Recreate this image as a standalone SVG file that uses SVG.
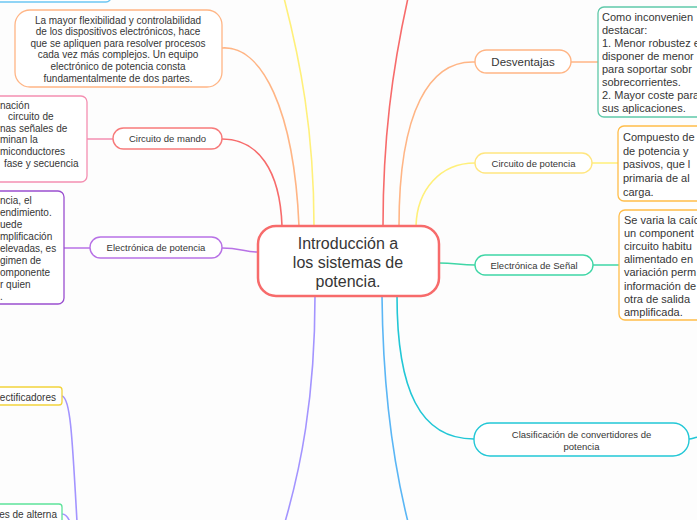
<svg xmlns="http://www.w3.org/2000/svg" width="697" height="520" viewBox="0 0 697 520">
<style>
text{font-family:"Liberation Sans",Arial,sans-serif;fill:#363636}
.c{fill:none;stroke-width:1.6;stroke-linecap:round}
.n{fill:#fff;stroke-width:1.4}
.b{fill:#fff;stroke-width:1.3}
.s{font-size:9.5px;text-anchor:middle}
.t{font-size:10px}
.m{font-size:10px;text-anchor:middle}
.l{font-size:11px}
</style>
<rect width="697" height="520" fill="#fdfdfd"/>
<g id="connectors">
<path class="c" stroke="#ffb585" d="M222,48 C262,45 294,110 299,226"/>
<path class="c" stroke="#f76b6b" d="M222,139 C258,139 280,170 282,226"/>
<path class="c" stroke="#fff07a" d="M284,-2 C300,60 314,130 314,226"/>
<path class="c" stroke="#f76b6b" d="M408,-2 C392,70 383,140 383,226"/>
<path class="c" stroke="#ffb585" d="M475,62 C430,60 399,110 399,226"/>
<path class="c" stroke="#fff07a" d="M475,163 C440,163 417,190 416,226"/>
<path class="c" stroke="#3fd6a6" d="M439,263 C455,263 460,265 475,265"/>
<path class="c" stroke="#22c7d6" d="M397,296 C397,390 420,439 474,439"/>
<path class="c" stroke="#5ab6f5" d="M382,296 C383,400 395,470 408,522"/>
<path class="c" stroke="#a394ff" d="M315,296 C315,400 300,470 285,522"/>
<path class="c" stroke="#b872e6" d="M222,248 C240,248 245,252 258,252"/>
<path class="c" stroke="#f48fb1" d="M87,139 L113,139"/>
<path class="c" stroke="#b872e6" d="M64,248 L90,248"/>
<path class="c" stroke="#ffb585" d="M571,62 L598,62"/>
<path class="c" stroke="#fff07a" d="M592,163 L618,163"/>
<path class="c" stroke="#3fd6a6" d="M593,265 L619,265"/>
<path class="c" stroke="#22c7d6" d="M689,439 C693,439 695,437 699,437"/>
<path class="c" stroke="#a394ff" d="M62,396 C70,398 72,430 77,522"/>
<path class="c" stroke="#a394ff" d="M62,514 C66,514 68,517 70,522"/>
</g>
<g id="top-node">
<rect class="b" x="-20" y="-30" width="131" height="32" rx="5" stroke="#6cc6f2" stroke-width="2.5"/>
</g>
<g id="central">
<rect x="258" y="226" width="181" height="70" rx="18" fill="#fff" stroke="#f76b6b" stroke-width="2.5"/>
<text x="348" y="249" font-size="16" text-anchor="middle">Introducción a</text>
<text x="348" y="268" font-size="16" text-anchor="middle">los sistemas de</text>
<text x="348" y="287" font-size="16" text-anchor="middle">potencia.</text>
</g>
<g id="la-mayor">
<rect class="b" x="15" y="10" width="207" height="77" rx="15" stroke="#ffb585"/>
<text class="m" x="118" y="23.5">La mayor flexibilidad y controlabilidad</text>
<text class="m" x="118" y="35.1">de los dispositivos electrónicos, hace</text>
<text class="m" x="118" y="46.7">que se apliquen para resolver procesos</text>
<text class="m" x="118" y="58.3">cada vez más complejos. Un equipo</text>
<text class="m" x="118" y="69.9">electrónico de potencia consta</text>
<text class="m" x="118" y="81.5">fundamentalmente de dos partes.</text>
</g>
<g id="circuito-mando">
<rect class="n" x="113" y="128" width="109" height="21" rx="10.5" stroke="#f77b7b"/>
<text class="s" x="167.5" y="142">Circuito de mando</text>
</g>
<g id="mando-detalle">
<rect class="b" x="-10" y="96" width="97" height="86" rx="6" stroke="#f48fb1"/>
<text class="t" x="0" y="108.5">nación</text>
<text class="t" x="8" y="120.1">circuito de</text>
<text class="t" x="0" y="131.7">nas señales de</text>
<text class="t" x="0" y="143.3">minan la</text>
<text class="t" x="0" y="154.9">miconductores</text>
<text class="t" x="4" y="166.5">fase y secuencia</text>
</g>
<g id="electronica-potencia">
<rect class="n" x="90" y="237" width="132" height="21" rx="10.5" stroke="#b872e6"/>
<text class="s" x="156" y="251">Electrónica de potencia</text>
</g>
<g id="potencia-detalle">
<rect class="b" x="-10" y="191" width="74" height="113" rx="6" stroke="#9a4fd0"/>
<text class="t" x="0" y="203.5">ncia, el</text>
<text class="t" x="0" y="215.6">endimiento.</text>
<text class="t" x="0" y="227.7">uede</text>
<text class="t" x="0" y="239.8">mplificación</text>
<text class="t" x="0" y="251.9">elevadas, es</text>
<text class="t" x="0" y="264">gimen de</text>
<text class="t" x="0" y="276.1">omponente</text>
<text class="t" x="0" y="288.2">r quien</text>
<text class="t" x="0" y="300.3">.</text>
</g>
<g id="desventajas">
<rect class="n" x="475" y="50" width="96" height="23" rx="11.5" stroke="#ffb585"/>
<text x="523" y="66" font-size="11.5" text-anchor="middle">Desventajas</text>
</g>
<g id="desventajas-detalle">
<rect class="b" x="598" y="7" width="110" height="110" rx="6" stroke="#5fc9a9"/>
<text class="l" x="602" y="21">Como inconvenien</text>
<text class="l" x="602" y="34">destacar:</text>
<text class="l" x="602" y="47">1. Menor robustez e</text>
<text class="l" x="602" y="60">disponer de menor</text>
<text class="l" x="602" y="73">para soportar sobr</text>
<text class="l" x="602" y="86">sobrecorrientes.</text>
<text class="l" x="602" y="99">2. Mayor coste para</text>
<text class="l" x="602" y="112">sus aplicaciones.</text>
</g>
<g id="circuito-potencia">
<rect class="n" x="475" y="153" width="117" height="20" rx="10" stroke="#ffe680"/>
<text class="s" x="533.5" y="166.5">Circuito de potencia</text>
</g>
<g id="circuito-potencia-detalle">
<rect class="b" x="618" y="126" width="90" height="75" rx="6" stroke="#ffbd4a"/>
<text class="l" x="623" y="141">Compuesto de</text>
<text class="l" x="623" y="154.7">de potencia y</text>
<text class="l" x="623" y="168.4">pasivos, que l</text>
<text class="l" x="623" y="182.1">primaria de al</text>
<text class="l" x="623" y="195.8">carga.</text>
</g>
<g id="electronica-senal">
<rect class="n" x="475" y="255" width="118" height="20" rx="10" stroke="#3fd6a6"/>
<text class="s" x="534" y="268.5">Electrónica de Señal</text>
</g>
<g id="senal-detalle">
<rect class="b" x="619" y="210" width="90" height="110" rx="6" stroke="#ffbd4a"/>
<text class="l" x="624" y="224">Se varia la caíd</text>
<text class="l" x="624" y="237.1">un component</text>
<text class="l" x="624" y="250.2">circuito habitu</text>
<text class="l" x="624" y="263.3">alimentado en</text>
<text class="l" x="624" y="276.4">variación perm</text>
<text class="l" x="624" y="289.5">información de</text>
<text class="l" x="624" y="302.6">otra de salida</text>
<text class="l" x="624" y="315.7">amplificada.</text>
</g>
<g id="clasificacion">
<rect class="n" x="474" y="423" width="215" height="33" rx="16" stroke="#22c7d6"/>
<text class="s" x="581.5" y="437.5">Clasificación de convertidores de</text>
<text class="s" x="581.5" y="449.5">potencia</text>
</g>
<g id="rectificadores">
<rect class="b" x="-10" y="387" width="72" height="18" rx="3" stroke="#f2d33c"/>
<text class="t" x="56" y="400.5" text-anchor="end">ectificadores</text>
</g>
<g id="alterna">
<rect class="b" x="-10" y="504" width="72" height="30" rx="3" stroke="#5de39a"/>
<text class="t" x="57" y="517.5" text-anchor="end">es de alterna</text>
</g>
</svg>
